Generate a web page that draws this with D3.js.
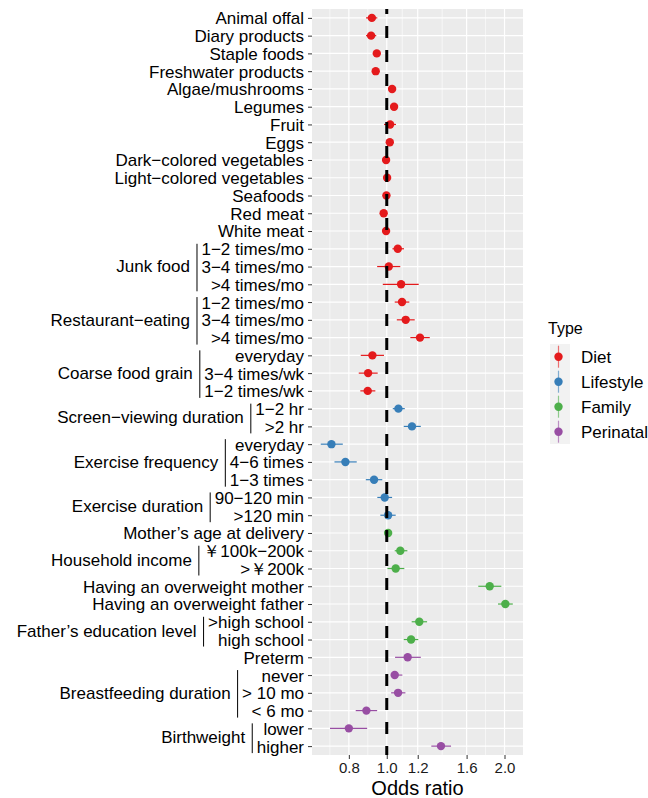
<!DOCTYPE html>
<html lang="en">
<head>
<meta charset="UTF-8">
<script src="https://d3js.org/d3.v7.min.js"></script>
<title>Odds ratio forest plot</title>
<style>
  body { margin: 0; background: #fff; }
  text { font-family: "Liberation Sans", Arial, Helvetica, sans-serif; }
</style>
</head>
<body>
<div id="chart"></div>
<script>
// row labels, top to bottom
var rowLabels = ["Animal offal", "Diary products", "Staple foods", "Freshwater products",
  "Algae/mushrooms", "Legumes", "Fruit", "Eggs", "Dark\u2212colored vegetables",
  "Light\u2212colored vegetables", "Seafoods", "Red meat", "White meat",
  "1\u22122 times/mo", "3\u22124 times/mo", ">4 times/mo",
  "1\u22122 times/mo", "3\u22124 times/mo", ">4 times/mo",
  "everyday", "3\u22124 times/wk", "1\u22122 times/wk",
  "1\u22122 hr", ">2 hr",
  "everyday", "4\u22126 times", "1\u22123 times",
  "90\u2212120 min", ">120 min",
  "Mother\u2019s age at delivery",
  "\uFFE5100k\u2212200k", ">\uFFE5200k",
  "Having an overweight mother", "Having an overweight father",
  ">high school", "high school",
  "Preterm",
  "never", "> 10 mo", "< 6 mo",
  "lower", "higher"];

var rowType = [
  "Diet", "Diet", "Diet", "Diet", "Diet", "Diet", "Diet", "Diet", "Diet", "Diet", "Diet", "Diet", "Diet",
  "Diet", "Diet", "Diet", "Diet", "Diet", "Diet", "Diet", "Diet", "Diet",
  "Lifestyle", "Lifestyle", "Lifestyle", "Lifestyle", "Lifestyle", "Lifestyle", "Lifestyle",
  "Family", "Family", "Family", "Family", "Family", "Family", "Family",
  "Perinatal", "Perinatal", "Perinatal", "Perinatal", "Perinatal", "Perinatal"];

var oddsRatio = [0.916, 0.912, 0.943, 0.937, 1.032, 1.044, 1.020, 1.018, 0.996, 1.002, 0.998, 0.982, 0.996,
  1.067, 1.012, 1.088, 1.094, 1.118, 1.216, 0.919, 0.896, 0.894,
  1.071, 1.160, 0.722, 0.784, 0.928, 0.988, 1.008,
  1.008, 1.083, 1.054, 1.833, 2.010, 1.211, 1.154,
  1.131, 1.048, 1.069, 0.887, 0.800, 1.376];
var ciLow = [0.885, 0.885, 0.925, 0.920, 1.018, 1.030, 0.984, 1.005, 0.985, 0.990, 0.977, 0.970, 0.984,
  1.034, 0.945, 0.977, 1.048, 1.061, 1.149, 0.858, 0.848, 0.856,
  1.036, 1.105, 0.678, 0.735, 0.884, 0.946, 0.963,
  0.998, 1.048, 1.004, 1.714, 1.925, 1.158, 1.105,
  1.050, 1.024, 1.026, 0.833, 0.716, 1.300];
var ciHigh = [0.946, 0.940, 0.962, 0.955, 1.046, 1.058, 1.056, 1.031, 1.007, 1.014, 1.020, 0.994, 1.008,
  1.107, 1.083, 1.207, 1.142, 1.179, 1.288, 0.984, 0.948, 0.935,
  1.112, 1.222, 0.772, 0.838, 0.974, 1.032, 1.054,
  1.018, 1.129, 1.109, 1.963, 2.100, 1.268, 1.204,
  1.222, 1.096, 1.116, 0.945, 0.891, 1.460];

// nested groups on the y axis (first and last row index)
var groupNames = ["Junk food", "Restaurant\u2212eating", "Coarse food grain", "Screen\u2212viewing duration",
  "Exercise frequency", "Exercise duration", "Household income", "Father\u2019s education level",
  "Breastfeeding duration", "Birthweight"];
var groupFirst = [13, 16, 19, 22, 24, 27, 30, 34, 37, 40];
var groupLast = [15, 18, 21, 23, 26, 28, 31, 35, 39, 41];

var types = ["Diet", "Lifestyle", "Family", "Perinatal"];
var typeColors = ["#E41A1C", "#377EB8", "#4DAF4A", "#984EA3"];
var xTicks = [0.8, 1.0, 1.2, 1.6, 2.0];

var W = 648, H = 798;
var panel = { left: 312, right: 523, top: 9, bottom: 755 };
var labelSize = 17;

var svg = d3.select("#chart").append("svg")
  .attr("width", W).attr("height", H);

var x = d3.scaleLog().domain([0.644, 2.23]).range([panel.left, panel.right]);
var y = d3.scalePoint().domain(d3.range(rowLabels.length))
  .range([panel.top, panel.bottom]).padding(0.5);
var color = d3.scaleOrdinal().domain(types).range(typeColors);

// panel background
svg.append("rect")
  .attr("x", panel.left).attr("y", panel.top)
  .attr("width", panel.right - panel.left).attr("height", panel.bottom - panel.top)
  .attr("fill", "#EBEBEB");

// minor grid: log-space midpoints between breaks
var minor = [];
for (var i = 0; i < xTicks.length - 1; i++) minor.push(Math.sqrt(xTicks[i] * xTicks[i + 1]));
minor.unshift(xTicks[0] * Math.sqrt(xTicks[0] / xTicks[1]));
minor = minor.filter(function (v) { return v > x.domain()[0] && v < x.domain()[1]; });

var grid = svg.append("g");
grid.selectAll(".minor").data(minor).enter().append("line")
  .attr("x1", function (d) { return x(d); }).attr("x2", function (d) { return x(d); })
  .attr("y1", panel.top).attr("y2", panel.bottom)
  .attr("stroke", "#fff").attr("stroke-width", 0.6);
grid.selectAll(".majx").data(xTicks).enter().append("line")
  .attr("x1", function (d) { return x(d); }).attr("x2", function (d) { return x(d); })
  .attr("y1", panel.top).attr("y2", panel.bottom)
  .attr("stroke", "#fff").attr("stroke-width", 1.2);
grid.selectAll(".majy").data(y.domain()).enter().append("line")
  .attr("x1", panel.left).attr("x2", panel.right)
  .attr("y1", function (d) { return y(d); }).attr("y2", function (d) { return y(d); })
  .attr("stroke", "#fff").attr("stroke-width", 1.2);

// points with CI
var rows = svg.append("g").selectAll("g").data(y.domain()).enter().append("g");
rows.append("line")
  .attr("x1", function (d) { return x(ciLow[d]); })
  .attr("x2", function (d) { return x(ciHigh[d]); })
  .attr("y1", function (d) { return y(d); }).attr("y2", function (d) { return y(d); })
  .attr("stroke", function (d) { return color(rowType[d]); })
  .attr("stroke-width", 1.2);
rows.append("circle")
  .attr("cx", function (d) { return x(oddsRatio[d]); })
  .attr("cy", function (d) { return y(d); })
  .attr("r", 4.2)
  .attr("fill", function (d) { return color(rowType[d]); });

// reference line at OR = 1
svg.append("line")
  .attr("x1", x(1)).attr("x2", x(1))
  .attr("y1", panel.top).attr("y2", panel.bottom)
  .attr("stroke", "#000").attr("stroke-width", 3)
  .attr("stroke-dasharray", "12,12").attr("stroke-dashoffset", 7);

// x axis
var xAxis = svg.append("g")
  .attr("transform", "translate(0," + panel.bottom + ")")
  .call(d3.axisBottom(x).tickValues(xTicks).tickFormat(d3.format(".1f")).tickSize(4).tickPadding(3));
xAxis.select(".domain").remove();
xAxis.selectAll("line").attr("stroke", "#333");
xAxis.selectAll("text").attr("font-size", 15).attr("fill", "#1a1a1a")
  .attr("font-family", "Liberation Sans, Arial, sans-serif");

svg.append("text")
  .attr("x", (panel.left + panel.right) / 2).attr("y", 795)
  .attr("text-anchor", "middle").attr("font-size", 20).attr("fill", "#000")
  .text("Odds ratio");

// y axis
var yAxis = svg.append("g")
  .attr("transform", "translate(" + panel.left + ",0)")
  .call(d3.axisLeft(y).tickFormat(function (d) { return rowLabels[d]; }).tickSize(4).tickPadding(4));
yAxis.select(".domain").remove();
yAxis.selectAll("line").attr("stroke", "#333");
yAxis.selectAll("text").attr("font-size", labelSize).attr("fill", "#000").attr("dy", "0.35em")
  .attr("font-family", "Liberation Sans, Arial, sans-serif");

var labelRight = panel.left - 8;
var widths = [];
yAxis.selectAll("text").each(function (d) { widths[d] = this.getComputedTextLength(); });

var groupG = svg.append("g");
groupNames.forEach(function (name, gi) {
  var maxW = d3.max(d3.range(groupFirst[gi], groupLast[gi] + 1), function (r) { return widths[r]; });
  var bx = labelRight - maxW - 4.5;
  var y0 = y(groupFirst[gi]), y1 = y(groupLast[gi]);
  groupG.append("line")
    .attr("x1", bx).attr("x2", bx)
    .attr("y1", y0 - 5).attr("y2", y1 + 7)
    .attr("stroke", "#000").attr("stroke-width", 1);
  groupG.append("text")
    .attr("x", bx - 7).attr("y", (y0 + y1) / 2).attr("dy", "0.35em")
    .attr("text-anchor", "end").attr("font-size", labelSize).attr("fill", "#000")
    .text(name);
});

// legend
var legend = svg.append("g").attr("transform", "translate(548,0)");
legend.append("text").attr("x", 0).attr("y", 334).attr("font-size", 16).text("Type");
legend.append("rect")
  .attr("x", 2).attr("y", 344).attr("width", 20).attr("height", 100)
  .attr("fill", "#F2F2F2");
var keys = legend.selectAll(".key").data(types).enter().append("g")
  .attr("transform", function (d, i) { return "translate(0," + (356.7 + i * 25) + ")"; });
keys.append("line")
  .attr("x1", 10.5).attr("x2", 10.5).attr("y1", -11).attr("y2", 11)
  .attr("stroke", function (d) { return color(d); }).attr("stroke-width", 1.2).attr("opacity", 0.6);
keys.append("circle").attr("cx", 10.5).attr("cy", 0).attr("r", 4.2)
  .attr("fill", function (d) { return color(d); });
keys.append("text").attr("x", 33).attr("y", 0).attr("dy", "0.36em")
  .attr("font-size", 17).text(function (d) { return d; });
</script>
</body>
</html>
